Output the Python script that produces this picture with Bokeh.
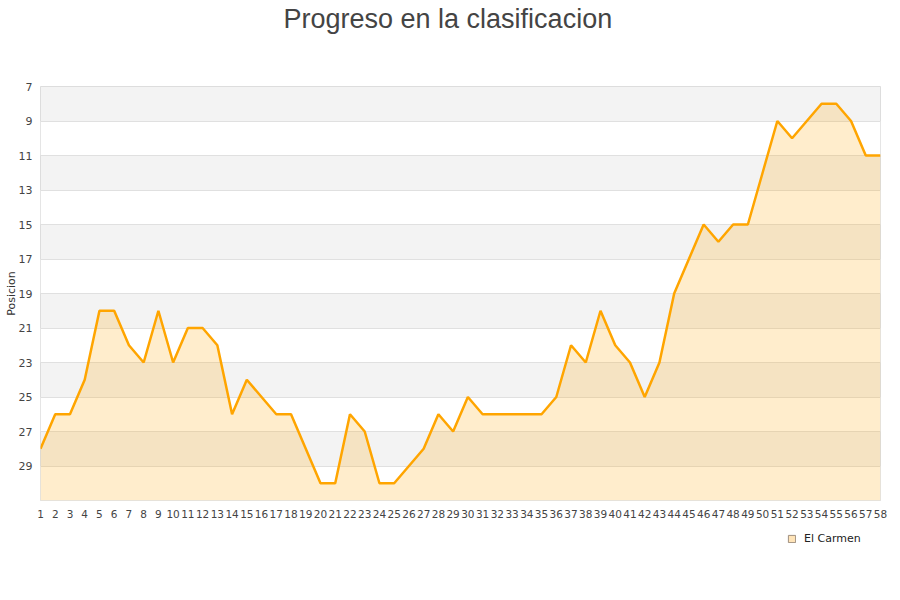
from bokeh.plotting import figure
from bokeh.models import Range1d, FixedTicker, Legend, LegendItem, ColumnDataSource, Title
from bokeh.layouts import column
from bokeh.embed import file_html
from bokeh.resources import INLINE

rounds = list(range(1, 59))
positions = [28, 26, 26, 24, 20, 20, 22, 23, 20, 23,
             21, 21, 22, 26, 24, 25, 26, 26, 28, 30,
             30, 26, 27, 30, 30, 29, 28, 26, 27, 25,
             26, 26, 26, 26, 26, 25, 22, 23, 20, 22,
             23, 25, 23, 19, 17, 15, 16, 15, 15, 12,
             9, 10, 9, 8, 8, 9, 11, 11]
y_ticks = [7, 9, 11, 13, 15, 17, 19, 21, 23, 25, 27, 29]
y_bottom = 31
y_top = 7
grid_ticks = y_ticks + [y_bottom]
team = "El Carmen"
title_text = "Progreso en la clasificacion"
y_label = "Posicion"

src = ColumnDataSource(dict(x=rounds, y=positions))

p = figure(width=892, height=530,
           output_backend="svg", toolbar_location=None,
           x_range=Range1d(rounds[0], rounds[-1]),
           y_range=Range1d(y_bottom, y_top),
           min_border_left=40, min_border_right=12,
           min_border_top=86, min_border_bottom=30,
           background_fill_color="#f3f3f3", border_fill_color="white")
p.title = None

spacer = Title(text=" ", text_font_size="1px", standoff=49)
p.add_layout(spacer, "above")
main_title = Title(text=title_text, align="left", offset=243, standoff=2,
                   text_font="Liberation Sans", text_font_size="27px",
                   text_font_style="normal", text_color="#444444")
p.add_layout(main_title, "above")

p.outline_line_color = "#dddddd"

# grid: background grey, white bands 9-11, 13-15, ..., 29-31
p.xgrid.grid_line_color = None
p.ygrid.ticker = FixedTicker(ticks=grid_ticks)
p.ygrid.grid_line_color = "#e0e0e0"
p.ygrid.band_fill_color = "white"
p.ygrid.band_fill_alpha = 1.0

# axes
p.xaxis.ticker = FixedTicker(ticks=rounds)
p.yaxis.ticker = FixedTicker(ticks=y_ticks)
for ax in (p.xaxis[0], p.yaxis[0]):
    ax.axis_line_color = None
    ax.major_tick_line_color = None
    ax.minor_tick_line_color = None
    ax.major_tick_out = 0
    ax.major_tick_in = 0
    ax.major_label_text_font = "DejaVu Sans"
    ax.major_label_text_color = "#444444"
p.xaxis.major_label_text_font_size = "10.5px"
p.yaxis.major_label_text_font_size = "11px"
p.xaxis.major_label_standoff = 9
p.yaxis.major_label_standoff = 8
p.yaxis.axis_label = y_label
p.yaxis.axis_label_text_font = "DejaVu Sans"
p.yaxis.axis_label_text_font_size = "11px"
p.yaxis.axis_label_text_font_style = "normal"
p.yaxis.axis_label_text_color = "#333333"
p.yaxis.axis_label_standoff = -2

# data
p.varea(x="x", y1="y", y2=y_bottom, source=src, fill_color="#FFA500", fill_alpha=0.2)
p.line(x="x", y="y", source=src, line_color="#FFA500", line_width=2.5)

# legend strip below the chart (its proxy glyph lies outside this strip's range)
p2 = figure(width=892, height=30, output_backend="svg", toolbar_location=None,
            x_range=Range1d(0, 1), y_range=Range1d(0, 1),
            x_axis_location=None, y_axis_location=None,
            min_border_left=40, min_border_right=12,
            min_border_top=0, min_border_bottom=0,
            background_fill_color="white", border_fill_color="white")
p2.title = None
p2.outline_line_color = None
p2.grid.grid_line_color = None

proxy = p2.quad(left="x", right="x", top="y", bottom="y", source=src,
                fill_color="#FFE4B8", line_color="#a09080", line_width=1)

legend = Legend(items=[LegendItem(label=team, renderers=[proxy])],
                location=(747, 15), orientation="horizontal",
                border_line_color=None, background_fill_alpha=0,
                glyph_width=9, glyph_height=9, label_text_font="DejaVu Sans",
                label_text_font_size="11px", label_text_color="#222222",
                padding=2, margin=0, label_standoff=8, label_height=12)
p2.add_layout(legend, "center")

layout = column(p, p2, spacing=0)
open("out.html", "w").write(file_html(layout, INLINE))
